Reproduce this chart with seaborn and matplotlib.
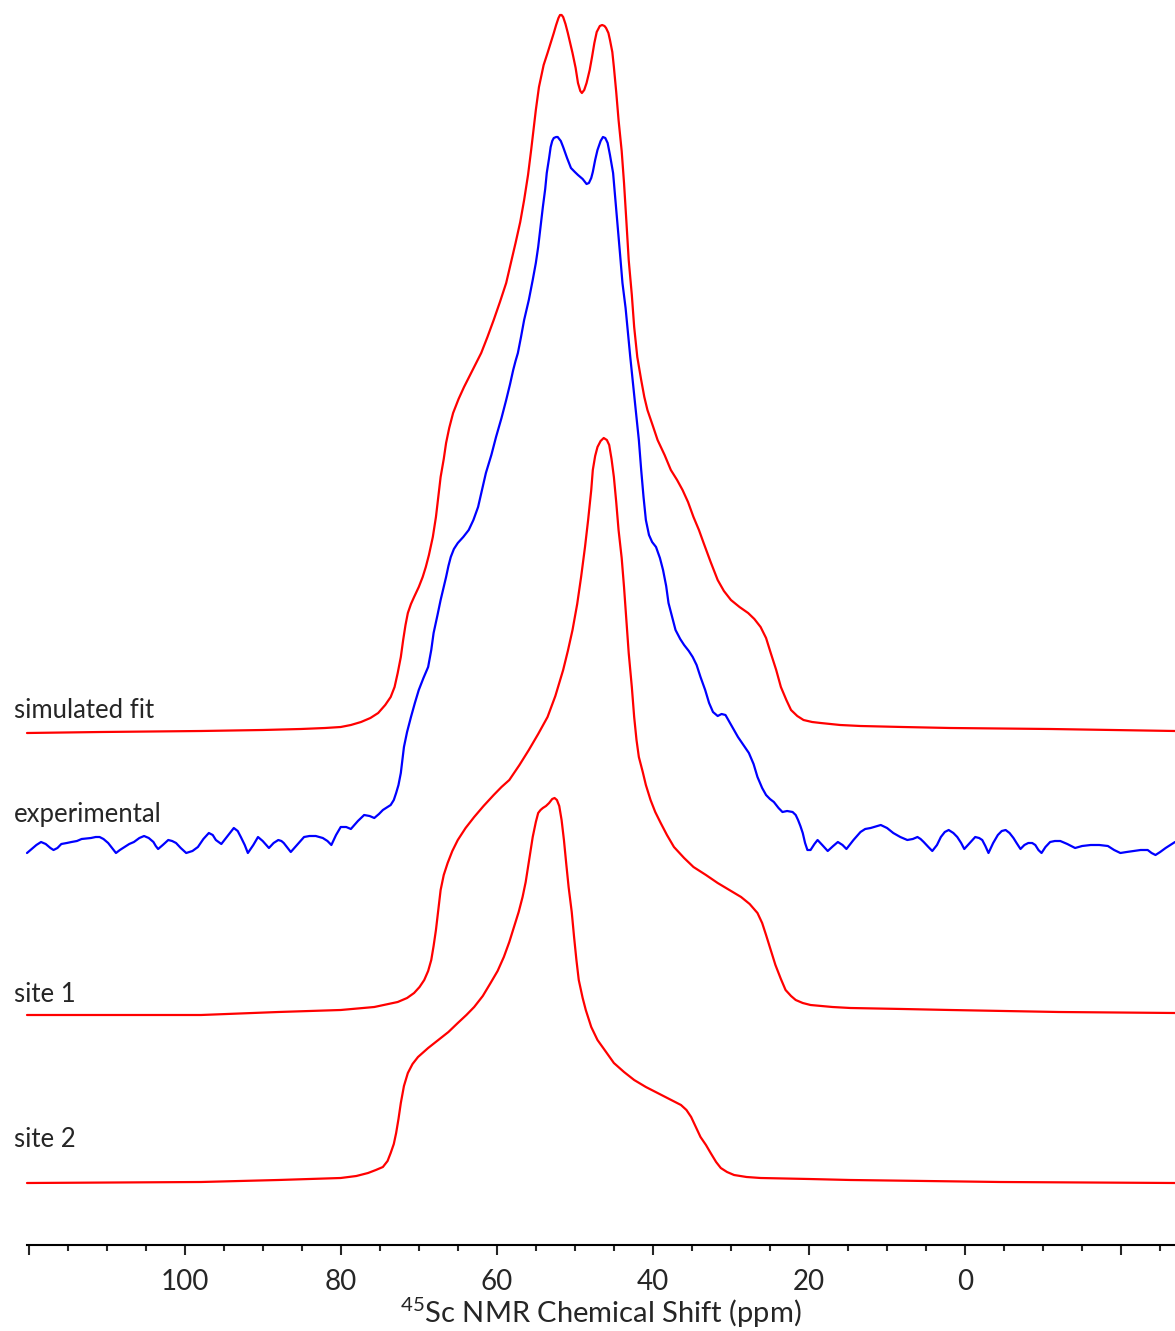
import matplotlib
matplotlib.use("Agg")
import matplotlib.pyplot as plt
import matplotlib.transforms as mtransforms
import seaborn as sns
import numpy as np

# Data: chemical shift (ppm) and relative intensity of each trace
sim_ppm = [120.2, 110.7, 97.9, 90, 85.1, 82, 80.0, 78.7, 77.4, 76.2, 75.2, 74.3, 73.6, 73.1, 72.7,
           72.3, 72.0, 71.7, 71.4, 71.0, 70.6, 70.0, 69.5, 69.1, 68.7, 68.2, 67.8, 67.5, 67.2,
           66.8, 66.5, 66.1, 65.6, 64.9, 64.2, 63.1, 62.0, 61.2, 60.4, 59.6, 58.8, 58.2, 57.6,
           57.0, 56.5, 56.0, 55.6, 55.3, 55.0, 54.6, 54.0, 53.5, 53.1, 52.7, 52.4, 52.1, 51.9,
           51.7, 51.5, 51.2, 50.9, 50.6, 50.3, 49.9, 49.6, 49.3, 49.1, 48.8, 48.5, 48.1, 47.8,
           47.5, 47.2, 46.8, 46.5, 46.2, 46.0, 45.7, 45.5, 45.2, 45.0, 44.7, 44.4, 44.0, 43.7,
           43.4, 43.1, 42.7, 42.4, 42.0, 41.5, 41.1, 40.7, 40.0, 39.4, 38.5, 37.7, 36.9, 36.2,
           35.5, 34.8, 34.1, 33.5, 32.6, 31.7, 30.9, 30.0, 28.9, 27.8, 27.0, 26.2, 25.5, 24.9,
           24.2, 23.6, 22.9, 22.3, 21.5, 20.7, 19.6, 18.5, 16.0, 13.4, 8, 1.9, -10.9, -26.9]
sim_int = [2, 3, 4, 5, 6, 7, 8, 10, 13, 17, 22, 30, 38, 48, 62,
           78, 95, 110, 122, 131, 138, 148, 158, 168, 180, 198, 218, 238, 258,
           276, 292, 307, 322, 336, 348, 365, 382, 398, 415, 433, 452, 472, 492,
           513, 535, 560, 585, 605, 625, 648, 670, 682, 692, 702, 710, 717, 720,
           720, 718, 711, 702, 692, 682, 667, 652, 644, 642, 645, 652, 665, 678,
           692, 703, 709, 710, 709, 707, 702, 695, 683, 668, 643, 615, 584, 552,
           514, 475, 440, 408, 378, 355, 338, 325, 309, 295, 280, 265, 255, 245,
           233, 218, 205, 192, 173, 155, 144, 135, 128, 122, 116, 108, 97, 82,
           65, 48, 35, 25, 19, 15, 13, 12, 10, 9, 8, 7, 6, 4]

exp_ppm = [120.2, 119.6, 119.0, 118.4, 117.8, 117.2, 116.8, 116.3, 115.8, 115.1, 114.5, 113.8,
           113.2, 112.0, 111.4, 110.9, 110.4, 109.8, 109.3, 108.8, 108.3, 107.7, 107.1, 106.5,
           105.8, 105.2, 104.6, 104.0, 103.7, 103.4, 102.8, 102.1, 101.6, 101.1, 100.5, 99.8,
           99.0, 98.3, 97.6, 96.9, 96.4, 96.0, 95.3, 94.5, 93.7, 93.2, 92.8, 92.3, 91.9, 91.2,
           90.6, 90.0, 89.2, 88.6, 88.0, 87.6, 87.3, 86.8, 86.4, 85.5, 84.7, 84.0, 83.2, 82.3,
           81.7, 81.2, 80.6, 80.0, 79.3, 78.7, 77.8, 77.0, 76.3, 75.7, 75.1, 74.6, 73.6, 73.2,
           72.9, 72.6, 72.3, 72.1, 71.9, 71.5, 71.0, 70.5, 70.0, 69.4, 68.8, 68.4, 68.1, 67.6,
           67.2, 66.8, 66.5, 66.2, 65.9, 65.5, 65.0, 64.3, 63.6, 63.0, 62.4, 61.9, 61.4, 60.7,
           60.1, 59.4, 58.8, 58.3, 57.9, 57.6, 57.3, 56.9, 56.5, 55.9, 55.4, 55.0, 54.7, 54.4,
           54.1, 53.8, 53.6, 53.3, 53.1, 52.9, 52.7, 52.4, 52.2, 51.8, 51.5, 51.0, 50.5, 50.0,
           49.6, 49.0, 48.5, 48.2, 47.9, 47.7, 47.4, 47.1, 46.7, 46.4, 46.1, 45.8, 45.5, 45.1,
           44.8, 44.5, 44.2, 43.9, 43.5, 43.2, 42.9, 42.6, 42.2, 41.8, 41.5, 41.2, 40.9, 40.5,
           40.1, 39.6, 39.1, 38.7, 38.3, 38.0, 37.5, 37.1, 36.5, 36.0, 35.4, 34.9, 34.4, 33.9,
           33.3, 32.8, 32.3, 31.7, 31.2, 30.7, 29.9, 29.1, 28.4, 27.7, 27.1, 26.6, 26.0, 25.5,
           25.0, 24.5, 23.9, 23.4, 22.8, 22.1, 21.7, 21.4, 21.1, 20.8, 20.5, 20.2, 19.8, 19.3,
           18.9, 18.3, 17.6, 16.9, 16.3, 15.7, 15.2, 14.3, 13.4, 12.8, 12.1, 10.8, 10.0, 9.2,
           8.3, 7.4, 6.7, 6.1, 5.7, 5.3, 4.7, 4.2, 3.6, 3.1, 2.6, 2.1, 1.5, 1.0, 0.5, 0.1,
           -0.6, -1.3, -1.8, -2.2, -2.6, -3.0, -3.6, -4.2, -4.7, -5.2, -5.7, -6.2, -6.6, -7.1,
           -7.6, -8.1, -8.6, -9.0, -9.4, -9.8, -10.3, -10.9, -11.5, -12.2, -13.1, -14.1, -15.0,
           -16.1, -17.2, -18.3, -19.1, -19.9, -20.7, -21.6, -22.5, -23.4, -23.9, -24.4, -25.0,
           -25.7, -26.3, -26.9]
exp_int = [-8, -4, 0, 3, 1, -3, -5, -3, 1, 2, 3, 4,
           6, 7, 8, 8, 6, 2, -3, -8, -5, -2, 1, 3,
           7, 9, 7, 3, -1, -4, 0, 5, 4, 2, -3, -8,
           -6, -2, 6, 12, 10, 5, 1, 9, 17, 14, 8, 0, -8, 0,
           8, 4, -3, 2, 5, 4, 2, -3, -7, 1, 8, 9, 9, 7,
           4, 0, 10, 18, 18, 16, 24, 30, 29, 27, 31, 35, 40, 45,
           52, 60, 72, 85, 98, 113, 128, 142, 155, 167, 178, 195, 212, 230,
           245, 258, 268, 279, 288, 296, 302, 308, 315, 325, 338, 355, 372, 390,
           408, 427, 445, 461, 475, 484, 492, 508, 525, 545, 565, 582, 598, 618,
           638, 656, 672, 687, 698, 704, 707, 708, 708, 704, 698, 687, 677, 673,
           670, 666, 661, 662, 667, 673, 685, 695, 704, 708, 707, 702, 690, 672,
           645, 618, 590, 562, 537, 512, 488, 465, 435, 405, 375, 348, 325, 310,
           303, 298, 287, 275, 259, 242, 227, 215, 206, 200, 194, 188, 180, 168,
           155, 142, 133, 129, 131, 130, 119, 108, 100, 92, 81, 68, 57, 50,
           46, 43, 37, 33, 34, 33, 30, 25, 19, 12, 2, -5, -5, 1,
           5, 0, -6, -1, 3, 0, -4, 5, 13, 16, 17, 20, 17, 12,
           8, 5, 6, 8, 6, 3, -2, -6, 0, 8, 13, 15, 12, 8, 2, -4,
           2, 8, 7, 5, -1, -8, 2, 10, 14, 15, 12, 7, 2, -4,
           0, 2, 2, 0, -5, -8, -2, 3, 4, 4, 1, -3, -1,
           0, 0, -1, -5, -8, -7, -6, -5, -5, -8, -10, -7,
           -3, 0, 3]

site1_ppm = [120.2, 97.9, 88, 80.0, 75.7, 72.7, 71.5, 70.6, 69.9, 69.3, 68.8, 68.4, 68.1, 67.8,
             67.5, 67.2, 66.8, 66.3, 65.7, 65.0, 64.0, 62.9, 61.7, 60.4, 59.4, 58.4, 57.1, 55.9,
             54.7, 53.5, 52.5, 51.5, 50.9, 50.3, 49.7, 49.2, 48.7, 48.3, 47.9, 47.7, 47.4, 47.1,
             46.7, 46.3, 45.9, 45.6, 45.3, 45.0, 44.7, 44.4, 44.0, 43.7, 43.4, 43.1, 42.7, 42.4,
             42.1, 41.8, 41.3, 40.9, 40.3, 39.7, 39.0, 38.2, 37.3, 36.0, 34.8, 33.2, 31.7, 30.2,
             28.7, 27.6, 26.6, 26.0, 25.5, 24.9, 24.3, 23.6, 23.0, 22.3, 21.7, 20.8, 19.8, 17.0,
             14.7, 8.0, 1.9, -12, -26.9]
site1_int = [-3, -3, 0, 2, 5, 10, 14, 19, 25, 32, 41, 52, 66, 82,
             102, 122, 137, 149, 161, 172, 184, 195, 206, 217, 225, 232, 247, 262,
             278, 295, 316, 342, 361, 382, 408, 435, 465, 492, 522, 542, 556, 565,
             571, 574, 572, 567, 553, 535, 510, 482, 454, 425, 392, 359, 325, 295,
             272, 255, 240, 227, 212, 200, 189, 177, 165, 154, 145, 137, 129, 122,
             115, 108, 99, 89, 77, 62, 47, 33, 22, 16, 12, 9, 7, 5,
             4, 3, 2, 0, -1]

site2_ppm = [120.2, 97.9, 88, 80.0, 78, 76.5, 75.5, 74.6, 74.0, 73.6, 73.2, 72.9, 72.6, 72.3,
             71.9, 71.4, 70.8, 70.1, 68.8, 67.5, 66.2, 65.0, 63.9, 62.9, 61.8, 60.8, 59.9, 59.1,
             58.4, 57.8, 57.2, 56.7, 56.3, 56.0, 55.7, 55.4, 55.0, 54.7, 54.4, 54.1, 53.7, 53.3,
             52.9, 52.6, 52.3, 52.0, 51.7, 51.4, 51.1, 50.8, 50.4, 50.1, 49.8, 49.5, 49.0, 48.6,
             47.9, 47.1, 46.0, 45.0, 43.7, 42.4, 40.9, 39.4, 37.9, 36.4, 35.7, 35.1, 34.5, 33.9,
             33.2, 32.6, 31.9, 31.3, 30.5, 29.6, 28, 26.2, 20, 14.7, 5, -4.5, -26.9]
site2_int = [-1, 0, 2, 4, 6, 9, 12, 15, 21, 29, 38, 49, 63, 79,
             96, 109, 118, 125, 134, 142, 150, 159, 167, 175, 186, 199, 211, 225,
             240, 255, 270, 285, 300, 315, 330, 345, 360, 369, 372, 374, 376, 379,
             383, 384, 382, 376, 362, 342, 318, 295, 270, 245, 222, 202, 184, 172,
             155, 142, 130, 119, 110, 102, 95, 89, 83, 77, 72, 65, 55, 45,
             37, 29, 20, 14, 10, 7, 5, 4, 3, 2, 1, 0, -1]

labels = ["simulated fit", "experimental", "site 1", "site 2"]
colors = ["#ff0000", "#0000ff", "#ff0000", "#ff0000"]

sns.set_style("white")
plt.rcParams['font.family'] = ['Lato', 'DejaVu Sans']
plt.rcParams['mathtext.fontset'] = 'custom'
plt.rcParams['mathtext.rm'] = 'Lato'

fig = plt.figure(figsize=(11.75, 13.31), dpi=100)
ax = fig.add_axes([27 / 1175, 86 / 1331, 1148 / 1175, 1245 / 1331])

# vertical stacking offsets and label baselines (axes height units)
offsets = [510, 400, 233, 63]
label_y = [527, 423, 243, 98]

traces = [(sim_ppm, sim_int), (exp_ppm, exp_int), (site1_ppm, site1_int), (site2_ppm, site2_int)]
for (ppm, inten), off, col in zip(traces, offsets, colors):
    sns.lineplot(x=ppm, y=np.array(inten) + off, color=col, lw=1.6, sort=False,
                 estimator=None, ax=ax, clip_on=False)

trans = mtransforms.blended_transform_factory(fig.transFigure, ax.transData)
for lab, ly in zip(labels, label_y):
    ax.text(14 / 1175, ly, lab, transform=trans, fontsize=18.5, va='baseline', ha='left')

ax.set_xlim(120.2, -26.9)
ax.set_ylim(0, 1245)
ax.set_yticks([])
ax.set_xticks([120, 100, 80, 60, 40, 20, 0, -20])
ax.set_xticklabels(['', '100', '80', '60', '40', '20', '0', ''])
ax.set_xticks(np.arange(-25, 121, 5), minor=True)
ax.tick_params(axis='x', which='major', length=7.5, width=1.5, direction='out',
               labelsize=20, pad=10, bottom=True)
ax.tick_params(axis='x', which='minor', length=4.5, width=1.5, direction='out', bottom=True)
ax.set_xlabel(r'$^{45}$Sc NMR Chemical Shift (ppm)', fontsize=21, labelpad=0)
sns.despine(ax=ax, left=True, top=True, right=True)
ax.spines['bottom'].set_linewidth(1.5)
ax.spines['bottom'].set_color('black')
ax.patch.set_alpha(0)

fig.savefig('out.png', dpi=100)
